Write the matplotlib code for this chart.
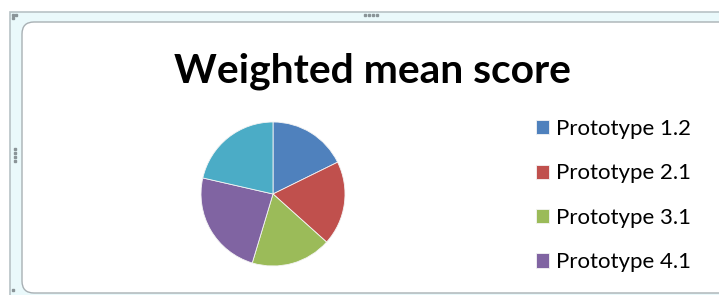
import matplotlib
matplotlib.use("Agg")
import matplotlib.pyplot as plt
import matplotlib.patches as patches

# slice values (percent of the whole)
labels = ["Prototype 1.2", "Prototype 2.1", "Prototype 3.1", "Prototype 4.1", "Prototype 5.1"]
scores = [17.7, 18.9, 18.0, 23.9, 21.4]
colors = ["#4F81BD", "#C0504D", "#9BBB59", "#8064A2", "#4BACC6"]
title = "Weighted mean score"

W, H = 719, 295
plt.rcParams['font.family'] = ['Lato', 'DejaVu Sans']

fig = plt.figure(figsize=(W / 100, H / 100), dpi=100)
fig.patch.set_facecolor("white")

# background axes in pixel units for the excel-like frame
bg = fig.add_axes([0, 0, 1, 1])
bg.set_xlim(0, W)
bg.set_ylim(H, 0)
bg.set_axis_off()
outer = patches.Rectangle((10, 12), 730, 300, facecolor="#EAF9FB",
                          edgecolor="#B8C2C6", linewidth=1.2)
bg.add_patch(outer)
inner = patches.FancyBboxPatch((22, 22), 720, 271,
                               boxstyle="round,pad=0,rounding_size=12",
                               facecolor="white", edgecolor="#A8B0B4", linewidth=1.0)
bg.add_patch(inner)
# sizing handles
for dx in range(4):
    bg.add_patch(patches.Rectangle((364 + dx * 4, 14), 2, 2, color="#8A9498"))
for dy in range(4):
    bg.add_patch(patches.Rectangle((14, 148 + dy * 4), 2, 2, color="#8A9498"))
for (hx, hy) in [(12, 14), (15, 14), (12, 17), (12, 289)]:
    bg.add_patch(patches.Rectangle((hx, hy), 2, 2, color="#8A9498"))

fig.text(372 / W, 1 - 71 / H, title, ha="center", va="center",
         fontsize=29.3, fontweight="bold", color="black")

# pie: centre (273, 194) px, radius 72 px
cx, cy, r = 273, 194, 72
ax = fig.add_axes([(cx - r) / W, (H - cy - r) / H, 2 * r / W, 2 * r / H])
wedges, _ = ax.pie(scores, colors=colors, startangle=90, counterclock=False,
                   radius=1, wedgeprops=dict(edgecolor="#F4F4F4", linewidth=0.6))
ax.set_xlim(-1, 1)
ax.set_ylim(-1, 1)

# the fifth entry falls below the chart frame in the original, so only four show
leg = fig.legend(wedges[:4], labels[:4], loc="upper left",
                 bbox_to_anchor=(536 / W, 1 - 119 / H),
                 frameon=False, fontsize=16, handlelength=0.6, handleheight=0.6,
                 handletextpad=0.32, labelspacing=1.1, borderaxespad=0,
                 borderpad=0)

fig.savefig("out.png", dpi=100)
